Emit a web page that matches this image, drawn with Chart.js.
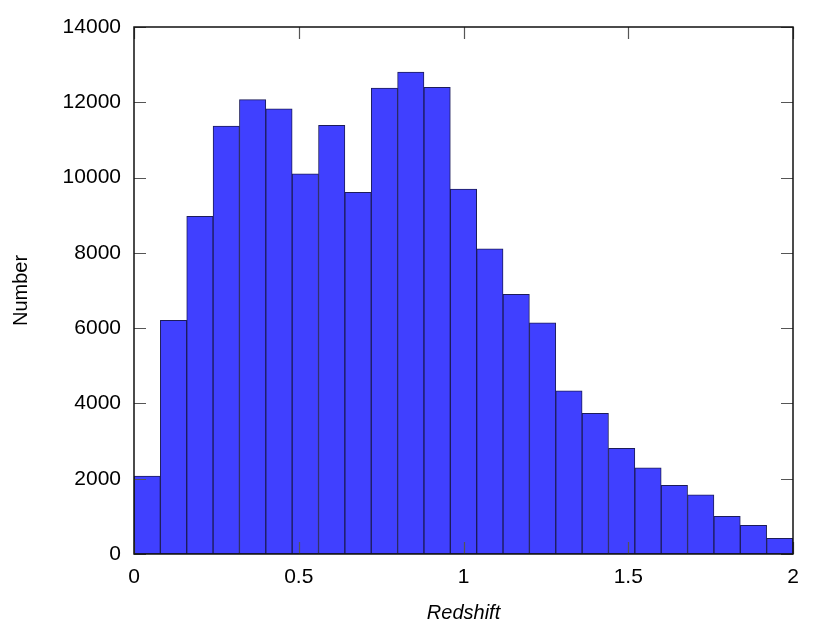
<!DOCTYPE html>
<html>
<head>
<meta charset="utf-8">
<script src="https://cdn.jsdelivr.net/npm/chart.js@4/dist/chart.umd.min.js"></script>
<style>
  html, body { margin: 0; padding: 0; background: #fff; }
  #wrap { width: 830px; height: 625px; }
</style>
</head>
<body>
<div id="wrap"><canvas id="histo" width="830" height="625"></canvas></div>
<script>
// bin centres (redshift), bin width 0.08
const binCenters = [0.04, 0.12, 0.20, 0.28, 0.36, 0.44, 0.52, 0.60, 0.68, 0.76,
  0.84, 0.92, 1.00, 1.08, 1.16, 1.24, 1.32, 1.40, 1.48, 1.56,
  1.64, 1.72, 1.80, 1.88, 1.96];
const counts = [2070, 6210, 8970, 11370, 12070, 11825, 10100, 11390, 9605, 12380,
  12805, 12400, 9695, 8110, 6900, 6140, 4335, 3735, 2805, 2290,
  1825, 1575, 1000, 760, 415];
const xTicks = [0, 0.5, 1, 1.5, 2];
const yTicks = [0, 2000, 4000, 6000, 8000, 10000, 12000, 14000];

const FONT = "'Liberation Sans', Arial, Helvetica, sans-serif";

// frame + inward ticks on all four sides
const frameTicks = {
  id: "frameTicks",
  afterDraw(chart) {
    const { ctx, chartArea: a, scales } = chart;
    const len = 12;
    ctx.save();
    ctx.strokeStyle = "#555";
    ctx.lineWidth = 1.2;
    ctx.beginPath();
    xTicks.forEach(v => {
      const px = Math.round(scales.x.getPixelForValue(v)) + 0.5;
      ctx.moveTo(px, a.bottom); ctx.lineTo(px, a.bottom - len);
      ctx.moveTo(px, a.top); ctx.lineTo(px, a.top + len);
    });
    yTicks.forEach(v => {
      const py = Math.round(scales.y.getPixelForValue(v)) + 0.5;
      ctx.moveTo(a.left, py); ctx.lineTo(a.left + len, py);
      ctx.moveTo(a.right, py); ctx.lineTo(a.right - len, py);
    });
    ctx.stroke();
    ctx.strokeStyle = "#111";
    ctx.lineWidth = 1.5;
    ctx.strokeRect(a.left, a.top, a.right - a.left, a.bottom - a.top);
    ctx.restore();
  }
};

new Chart(document.getElementById("histo"), {
  type: "bar",
  data: {
    datasets: [{
      data: binCenters.map((x, i) => ({ x: x, y: counts[i] })),
      backgroundColor: "#4040ff",
      borderColor: "#1c1c5a",
      borderWidth: 1,
      barPercentage: 1,
      categoryPercentage: 1,
      borderSkipped: false
    }]
  },
  options: {
    responsive: false,
    animation: false,
    events: [],
    layout: { padding: { top: 27, right: 37, left: 0, bottom: 0 } },
    plugins: { legend: { display: false }, tooltip: { enabled: false } },
    scales: {
      x: {
        type: "linear",
        min: 0, max: 2,
        offset: false,
        grid: { display: false, drawTicks: false },
        border: { display: false },
        afterBuildTicks: s => { s.ticks = xTicks.map(v => ({ value: v })); },
        afterFit: s => { s.height = 71; },
        ticks: {
          color: "#000", padding: 11,
          font: { family: FONT, size: 21 },
          callback: v => String(v)
        },
        title: {
          display: true, text: "Redshift", color: "#000",
          font: { family: FONT, size: 20, style: "italic" },
          padding: { top: 3, bottom: 0 }
        }
      },
      y: {
        min: 0, max: 14000,
        grid: { display: false, drawTicks: false },
        border: { display: false },
        afterBuildTicks: s => { s.ticks = yTicks.map(v => ({ value: v })); },
        afterFit: s => { s.width = 134; },
        ticks: {
          color: "#000", padding: 13,
          font: { family: FONT, size: 21 },
          callback: v => String(v)
        },
        title: {
          display: true, text: "Number", color: "#000",
          font: { family: FONT, size: 20 },
          padding: { top: 9, bottom: 0 }
        }
      }
    }
  },
  plugins: [frameTicks]
});
</script>
</body>
</html>
